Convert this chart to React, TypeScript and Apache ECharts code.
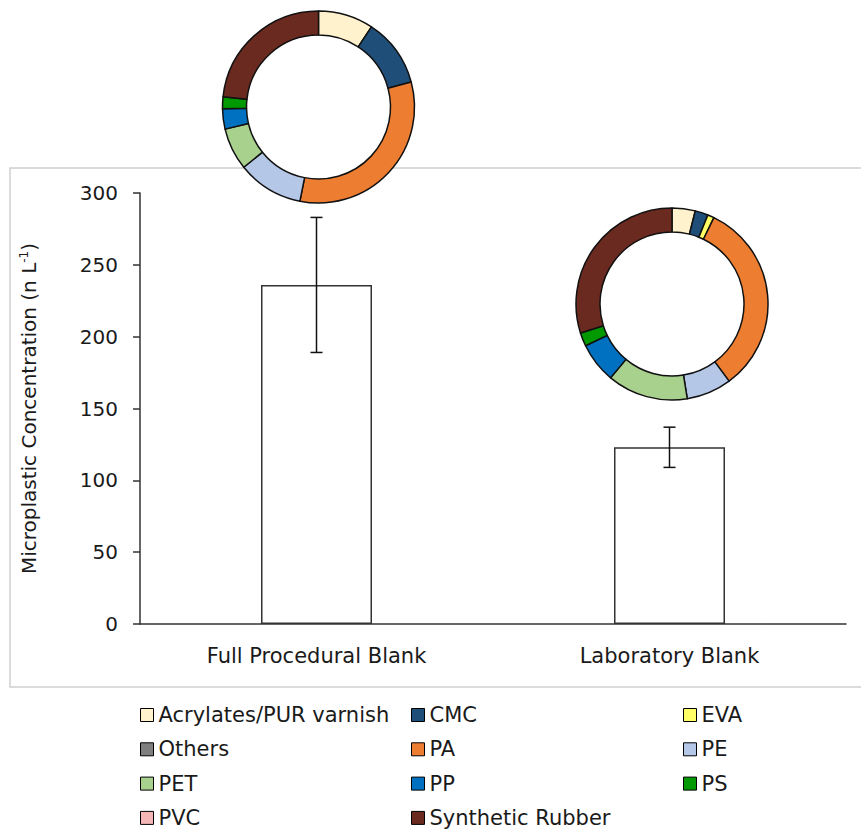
import React, { useEffect, useRef } from "react";
import * as echarts from "echarts";

const categories = ["Full Procedural Blank", "Laboratory Blank"];
const meanConcentration = [236, 123];
const errorConcentration = [47, 14];
const yTicks = [0, 50, 100, 150, 200, 250, 300];

const polymerTypes = [
  "Acrylates/PUR varnish",
  "CMC",
  "EVA",
  "Others",
  "PA",
  "PE",
  "PET",
  "PP",
  "PS",
  "PVC",
  "Synthetic Rubber",
];
const polymerColors = [
  "#FFF2CC",
  "#1F4E79",
  "#FFFF66",
  "#7F7F7F",
  "#ED7D31",
  "#B4C7E7",
  "#A9D18E",
  "#0070C0",
  "#009900",
  "#F4B6B6",
  "#6B2A1F",
];
const fullComposition = [9.3, 11.5, 0, 0, 32.3, 11.1, 7.1, 3.4, 2.0, 0, 23.3];
const labComposition = [3.9, 2.2, 1.1, 0, 32.7, 7.6, 13.6, 6.8, 2.3, 0, 29.9];

const legendColumns = [
  ["Acrylates/PUR varnish", "Others", "PET", "PVC"],
  ["CMC", "PA", "PP", "Synthetic Rubber"],
  ["EVA", "PE", "PS"],
];

const FONT = "DejaVu Sans";

function pieData(values: number[]) {
  return polymerTypes.map((name, i) => ({
    name,
    value: values[i],
    itemStyle: {
      color: polymerColors[i],
      borderColor: "#111",
      borderWidth: values[i] > 0 ? 1.5 : 0,
    },
  }));
}

export default function App() {
  const ref = useRef<HTMLDivElement>(null);
  useEffect(() => {
    if (!ref.current) return;
    const chart = echarts.init(ref.current, null, { renderer: "svg" });
    const legendLefts = [140, 411, 683];
    chart.setOption({
      animation: false,
      backgroundColor: "#fff",
      textStyle: { fontFamily: FONT },
      graphic: [
        {
          type: "rect",
          z: 0,
          shape: { x: 10, y: 168, width: 870, height: 519 },
          style: { fill: "none", stroke: "#cfcfcf", lineWidth: 1.5 },
          silent: true,
        },
        {
          type: "circle",
          z: 1,
          shape: { cx: 318.5, cy: 107, r: 72 },
          style: { fill: "#fff" },
          silent: true,
        },
      ],
      grid: { left: 140, right: 15, top: 193, height: 431 },
      xAxis: {
        type: "category",
        data: categories,
        axisLine: { lineStyle: { color: "#333", width: 1.5 } },
        axisTick: { show: false },
        axisLabel: { color: "#1a1a1a", fontSize: 21, margin: 21, fontFamily: FONT },
      },
      yAxis: {
        type: "value",
        min: 0,
        max: 300,
        interval: 50,
        splitLine: { show: false },
        axisLine: { show: true, lineStyle: { color: "#333", width: 1.5 } },
        axisTick: { show: true, length: 7, lineStyle: { color: "#333", width: 1.5 } },
        axisLabel: {
          color: "#1a1a1a",
          fontSize: 20,
          margin: 22,
          fontFamily: FONT,
          formatter: (v: number) => (yTicks.includes(v) ? String(v) : ""),
        },
        name: "{a|Microplastic Concentration (n L}{s|-1}{a|)}",
        nameLocation: "middle",
        nameRotate: 90,
        nameGap: 100,
        nameTextStyle: {
          rich: {
            a: { fontSize: 20, color: "#1a1a1a", fontFamily: FONT },
            s: { fontSize: 12, color: "#1a1a1a", fontFamily: FONT, verticalAlign: "top", padding: [0, 0, 10, 0] },
          },
        },
      },
      legend: legendColumns.map((col, i) => ({
        data: col,
        left: legendLefts[i],
        top: 703,
        orient: "vertical",
        icon: "rect",
        itemWidth: 13,
        itemHeight: 13,
        itemGap: 10.3,
        padding: 0,
        selectedMode: false,
        itemStyle: { borderColor: "#000", borderWidth: 1 },
        textStyle: { fontSize: 21, lineHeight: 24, color: "#1a1a1a", fontFamily: FONT },
      })),
      series: [
        {
          type: "bar",
          data: meanConcentration,
          barWidth: 111,
          itemStyle: { color: "#fff", borderColor: "#333", borderWidth: 1.5 },
          z: 2,
        },
        {
          type: "custom",
          data: categories.map((_, i) => [
            i,
            meanConcentration[i] - errorConcentration[i],
            meanConcentration[i] + errorConcentration[i],
          ]),
          z: 3,
          renderItem: (params: any, api: any) => {
            const lo = api.coord([api.value(0), api.value(1)]);
            const hi = api.coord([api.value(0), api.value(2)]);
            const x = lo[0];
            const half = 6;
            const style = { stroke: "#111", lineWidth: 1.5 };
            return {
              type: "group",
              children: [
                { type: "line", shape: { x1: x, y1: lo[1], x2: x, y2: hi[1] }, style },
                { type: "line", shape: { x1: x - half, y1: lo[1], x2: x + half, y2: lo[1] }, style },
                { type: "line", shape: { x1: x - half, y1: hi[1], x2: x + half, y2: hi[1] }, style },
              ],
            };
          },
        },
        {
          type: "pie",
          name: "Full Procedural Blank",
          center: [318.5, 107],
          radius: [72, 96],
          startAngle: 90,
          clockwise: true,
          label: { show: false },
          labelLine: { show: false },
          silent: true,
          z: 5,
          data: pieData(fullComposition),
        },
        {
          type: "pie",
          name: "Laboratory Blank",
          center: [672, 304],
          radius: [72, 96],
          startAngle: 90,
          clockwise: true,
          label: { show: false },
          labelLine: { show: false },
          silent: true,
          z: 5,
          data: pieData(labComposition),
        },
      ],
    });
    return () => chart.dispose();
  }, []);
  return (
    <div
      ref={ref}
      style={{ position: "absolute", left: 0, top: 0, width: 861, height: 831 }}
    />
  );
}
